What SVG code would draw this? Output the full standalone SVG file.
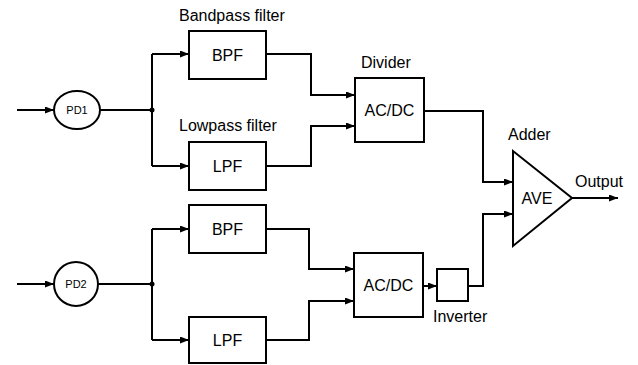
<svg xmlns="http://www.w3.org/2000/svg" width="638" height="365" viewBox="0 0 638 365">
<style>
.box{fill:#fff;stroke:#000;stroke-width:2}
.ln{fill:none;stroke:#000;stroke-width:2}
.arr{marker-end:url(#ah)}
text{font-family:"Liberation Sans",Arial,sans-serif;font-size:16px;fill:#000}
.c{text-anchor:middle}
.sm{font-size:11px}
</style>
<defs>
<marker id="ah" markerUnits="userSpaceOnUse" markerWidth="10" markerHeight="8" refX="9" refY="3.5" orient="auto">
<path d="M0,0 L9,3.5 L0,7 z" fill="#000"/>
</marker>
</defs>
<rect width="638" height="365" fill="#fff"/>
<g id="connectors">
<path class="ln arr" d="M17,110 H54"/>
<path class="ln" d="M100,110 H152 M152,54 V166"/>
<path class="ln arr" d="M152,54 H189"/>
<path class="ln arr" d="M152,166 H189"/>
<circle cx="152" cy="110" r="2.5" fill="#000"/>
<path class="ln arr" d="M266,54 H311 V95 H355"/>
<path class="ln arr" d="M266,166 H311 V126 H355"/>
<path class="ln arr" d="M424,111 H483 V182 H513"/>
<path class="ln arr" d="M572,198 H618"/>
<path class="ln arr" d="M17,284 H54"/>
<path class="ln" d="M98,284 H152 M152,229 V340"/>
<path class="ln arr" d="M152,229 H189"/>
<path class="ln arr" d="M152,340 H189"/>
<circle cx="152" cy="284" r="2.5" fill="#000"/>
<path class="ln arr" d="M266,229 H309 V269 H354"/>
<path class="ln arr" d="M266,340 H309 V301 H354"/>
<path class="ln arr" d="M423,286 H437"/>
<path class="ln arr" d="M468,286 H483 V214 H513"/>
</g>
<g id="pd1"><ellipse class="box" cx="77" cy="110" rx="23" ry="19"/><text class="c sm" x="77" y="114">PD1</text></g>
<g id="bpf1"><rect class="box" x="189" y="31" width="77" height="48"/><text class="c" x="227.5" y="61">BPF</text><text x="179" y="21">Bandpass filter</text></g>
<g id="lpf1"><rect class="box" x="189" y="142" width="77" height="48"/><text class="c" x="227.5" y="172">LPF</text><text x="179" y="131">Lowpass filter</text></g>
<g id="div1"><rect class="box" x="355" y="78" width="69" height="64"/><text class="c" x="389.5" y="116">AC/DC</text><text x="361" y="68">Divider</text></g>
<g id="adder"><path class="box" d="M513,151 L513,246 L572,198 z"/><text class="c" x="537" y="204">AVE</text><text x="508" y="140">Adder</text><text x="575" y="187">Output</text></g>
<g id="pd2"><ellipse class="box" cx="76" cy="284" rx="22" ry="22"/><text class="c sm" x="76" y="288">PD2</text></g>
<g id="bpf2"><rect class="box" x="189" y="205" width="77" height="48"/><text class="c" x="227.5" y="235">BPF</text></g>
<g id="lpf2"><rect class="box" x="189" y="317" width="77" height="46"/><text class="c" x="227.5" y="346">LPF</text></g>
<g id="div2"><rect class="box" x="354" y="253" width="69" height="64"/><text class="c" x="388.5" y="291">AC/DC</text></g>
<g id="inverter"><rect class="box" x="437" y="269" width="31" height="32"/><text x="433" y="322">Inverter</text></g>
</svg>
